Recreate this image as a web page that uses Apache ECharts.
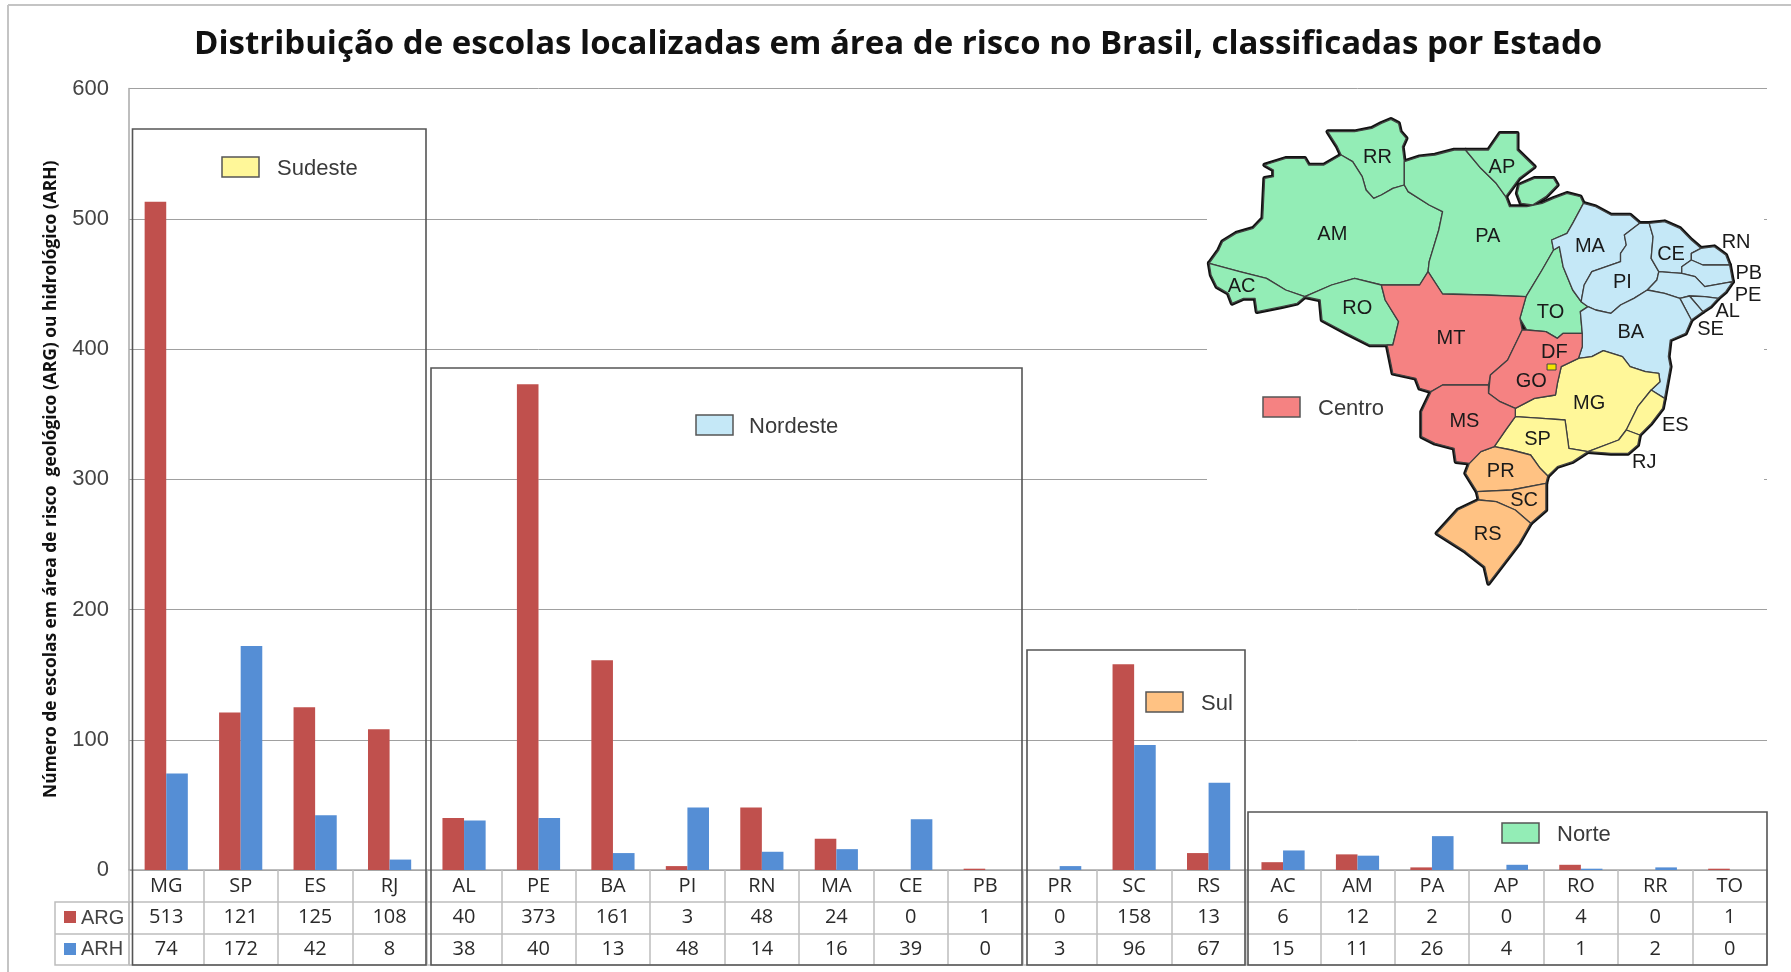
<!DOCTYPE html>
<html><head><meta charset="utf-8">
<style>html,body{margin:0;padding:0;background:#fff}#c{width:1791px;height:972px}</style>
<script src="https://cdn.jsdelivr.net/npm/echarts@6/dist/echarts.min.js"></script>
</head><body><div id="c"></div>
<script>
const categories=['MG','SP','ES','RJ','AL','PE','BA','PI','RN','MA','CE','PB','PR','SC','RS','AC','AM','PA','AP','RO','RR','TO'];
const arg=[513,121,125,108,40,373,161,3,48,24,0,1,0,158,13,6,12,2,0,4,0,1];
const arh=[74,172,42,8,38,40,13,48,14,16,39,0,3,96,67,15,11,26,4,1,2,0];
const titleText='Distribuição de escolas localizadas em área de risco no Brasil, classificadas por Estado';
const yName='Número de escolas em área de risco  geológico (ARG) ou hidrológico (ARH)';
const colors={red:'#C0504D',blue:'#558ED5',norte:'#93EDB6',nordeste:'#C5E8F7',centro:'#F58282',sudeste:'#FFF799',sul:'#FFC283'};
const G={l:129,r:1767,t:88.5,b:870};
const TB={r1:902,r2:934,r3:965,left:55};
const regionBoxes=[[132.5,129,426,965],[431,368,1022,965],[1027,650,1245,965],[1248,812,1767,965]];
const regionKeys=[
 ['Sudeste',colors.sudeste,222,157,277],['Nordeste',colors.nordeste,696,415,749],
 ['Sul',colors.sul,1146,692,1201],['Norte',colors.norte,1502,823,1557],['Centro',colors.centro,1263,397,1318]];
const M={
RR:['norte',[360,125,430,125,475,115,500,100,525,88,545,100,550,125,565,145,555,170,560,215,560,285,530,295,500,315,480,325,460,300,450,260,425,215,395,195,385,170]],
AM:['norte',[50,520,75,480,85,455,120,430,165,415,190,385,195,265,218,260,218,240,195,225,250,205,300,205,310,225,350,225,395,195,425,215,450,260,460,300,480,325,500,315,530,295,560,285,570,305,625,345,660,365,650,420,625,515,622,545,600,585,500,585,430,565,370,585,300,620,250,600,200,565,130,545]],
AC:['norte',[50,520,130,545,200,565,250,600,300,620,280,640,240,650,175,665,170,625,140,625,110,640,100,610,70,590,55,555]],
RO:['norte',[300,620,370,585,430,565,500,585,510,630,545,695,530,765,470,765,410,730,345,690,340,630]],
PA:['norte',[560,215,600,200,640,195,690,180,720,180,760,235,800,280,825,320,835,350,880,350,920,340,950,325,985,310,1020,320,1028,340,1000,400,985,430,945,450,950,480,920,540,878,620,770,615,660,612,622,545,625,515,650,420,660,365,625,345,570,305,560,285]],
AP:['norte',[720,180,780,180,810,130,855,130,855,180,900,230,860,265,825,320,800,280,760,235]],
IL:['norte',[855,310,860,285,900,265,950,265,960,285,930,320,895,345,865,340]],
TO:['norte',[950,480,965,470,975,530,1000,600,1022,635,1040,650,1020,665,1025,730,975,730,960,745,930,725,880,720,862,685,878,620,920,540]],
MA:['nordeste',[1028,340,1060,350,1100,375,1150,375,1175,400,1135,435,1140,465,1125,490,1125,515,1050,545,1030,585,1022,635,1000,600,975,530,965,470,950,480,945,450,985,430,1000,400]],
PI:['nordeste',[1175,400,1200,400,1210,440,1205,505,1225,545,1220,570,1195,600,1160,625,1125,645,1100,670,1060,660,1040,650,1022,635,1030,585,1050,545,1125,515,1125,490,1140,465,1135,435]],
CE:['nordeste',[1200,400,1240,395,1280,415,1310,450,1335,475,1310,490,1310,510,1285,530,1285,550,1225,545,1205,505,1210,440]],
RN:['nordeste',[1335,475,1370,470,1400,495,1410,525,1340,525,1310,510,1310,490]],
PB:['nordeste',[1285,530,1310,510,1340,525,1410,525,1418,575,1345,590,1320,560,1285,550]],
PE:['nordeste',[1225,545,1285,550,1320,560,1345,590,1418,575,1400,605,1380,625,1345,620,1305,618,1280,625,1240,610,1195,600,1220,570]],
AL:['nordeste',[1305,618,1345,620,1380,625,1360,650,1340,665]],
SE:['nordeste',[1280,625,1305,618,1340,665,1310,690]],
BA:['nordeste',[1020,665,1040,650,1060,660,1100,670,1125,645,1160,625,1195,600,1240,610,1280,625,1310,690,1295,730,1255,750,1250,800,1255,830,1240,925,1205,900,1228,875,1225,850,1190,845,1150,830,1130,800,1080,782,1050,800,1015,805,1025,770,1025,730]],
MG:['sudeste',[970,830,1015,805,1050,800,1080,782,1130,800,1150,830,1190,845,1225,850,1228,875,1205,900,1170,950,1140,1020,1120,1050,1040,1085,990,1075,980,990,920,985,850,980,850,955,900,925,955,915,960,880]],
ES:['sudeste',[1205,900,1240,925,1235,955,1205,1000,1175,1035,1140,1020,1170,950]],
RJ:['sudeste',[1140,1020,1175,1035,1170,1065,1145,1090,1100,1090,1040,1085,1120,1050]],
SP:['sudeste',[850,980,920,985,980,990,990,1075,1040,1085,1000,1115,960,1130,935,1158,915,1135,890,1095,840,1080,795,1070,825,1020]],
PR:['sul',[795,1070,840,1080,890,1095,915,1135,935,1158,930,1180,840,1200,750,1205,720,1150,730,1120,760,1085]],
SC:['sul',[750,1205,840,1200,930,1180,930,1260,890,1300,850,1260,800,1235,755,1230]],
RS:['sul',[755,1230,800,1235,850,1260,890,1300,860,1360,820,1420,780,1480,770,1430,720,1385,645,1330,700,1260]],
MT:['centro',[500,585,600,585,622,545,660,612,770,615,878,620,862,685,868,720,830,810,785,855,780,885,660,885,630,905,600,895,590,865,530,850,515,765,530,765,545,695,510,630]],
GO:['centro',[868,720,880,720,930,725,960,745,975,730,1025,730,1025,770,1015,805,970,830,960,880,955,915,900,925,850,955,810,935,780,910,785,855,830,810]],
MS:['centro',[660,885,780,885,780,910,810,935,850,955,850,980,825,1020,795,1070,760,1085,730,1120,695,1115,690,1075,640,1060,605,1040,605,965,630,905]]
};
const mapLabels=[['RR',490,203],['AP',815,232],['AM',372,433],['PA',778,438],['AC',135,590],['RO',437,655],['MA',1045,470],['PI',1130,577],['CE',1257,493],['TO',942,668],['MT',682,745],['DF',952,787],['GO',892,873],['BA',1152,728],['MG',1043,940],['MS',717,995],['SP',908,1047],['PR',812,1145],['SC',873,1230],['RS',778,1332],['RN',1427,458],['PB',1460,550],['PE',1458,615],['AL',1405,665],['SE',1360,717],['ES',1268,1005],['RJ',1187,1118]];
const mx=x=>1190+x/2.613, my=y=>90+y/3;
const SANS='"Liberation Sans",Arial,sans-serif', OPEN='"Open Sans",sans-serif';
function toPts(a){const p=[];for(let i=0;i<a.length;i+=2)p.push([mx(a[i]),my(a[i+1])]);return p;}
const line=(x1,y1,x2,y2,color,w,z)=>({type:'line',shape:{x1,y1,x2,y2},style:{stroke:color,lineWidth:w},z,silent:true});
const g=[];
g.push(line(8,5,1791,5,'#c4c4c4',2,1));
g.push(line(8,5,8,972,'#c4c4c4',2,1));
g.push({type:'rect',shape:{x:1207,y:100,width:557,height:498},style:{fill:'#fff'},z:5,silent:true});
g.push(line(G.l,TB.r1,G.r,TB.r1,'#bdbdbd',1.5,6));
g.push(line(G.l,TB.r2,G.r,TB.r2,'#bdbdbd',1.5,6));
g.push(line(G.l,TB.r3,G.r,TB.r3,'#bdbdbd',1.5,6));
g.push({type:'rect',shape:{x:TB.left,y:TB.r1,width:G.l-TB.left,height:TB.r3-TB.r1},style:{fill:'none',stroke:'#bdbdbd',lineWidth:1.5},z:6,silent:true});
g.push(line(TB.left,TB.r2,G.l,TB.r2,'#bdbdbd',1.5,6));
[['ARG',colors.red,911,918],['ARH',colors.blue,943,949]].forEach(r=>{
 g.push({type:'rect',shape:{x:64,y:r[2],width:12,height:12},style:{fill:r[1]},z:7,silent:true});
 g.push({type:'text',x:81,y:r[3],style:{text:r[0],font:'20px '+SANS,fill:'#444',textVerticalAlign:'middle'},z:7,silent:true});
});
regionBoxes.forEach(b=>g.push({type:'rect',shape:{x:b[0],y:b[1],width:b[2]-b[0],height:b[3]-b[1]},style:{fill:'none',stroke:'#555',lineWidth:1.6},z:8,silent:true}));
regionKeys.forEach(k=>{
 g.push({type:'rect',shape:{x:k[2],y:k[3],width:37,height:20},style:{fill:k[1],stroke:'#555',lineWidth:1.5},z:10,silent:true});
 g.push({type:'text',x:k[4],y:k[3]+12,style:{text:k[0],font:'22px '+SANS,fill:'#3a3a3a',textVerticalAlign:'middle'},z:10,silent:true});
});
Object.keys(M).forEach(k=>g.push({type:'polygon',shape:{points:toPts(M[k][1])},style:{fill:'#111',stroke:'#111',lineWidth:4.6,lineJoin:'round'},z:11,silent:true}));
Object.keys(M).forEach(k=>g.push({type:'polygon',shape:{points:toPts(M[k][1])},style:{fill:colors[M[k][0]],stroke:'#404040',lineWidth:1.3,lineJoin:'round'},z:12,silent:true}));
g.push({type:'rect',shape:{x:mx(933),y:my(822),width:9,height:6},style:{fill:'#F2E400',stroke:'#444',lineWidth:1},z:13,silent:true});
mapLabels.forEach(l=>g.push({type:'text',x:mx(l[1]),y:my(l[2]),style:{text:l[0],font:'20px '+SANS,fill:'#1a1a1a',textAlign:'center',textVerticalAlign:'middle'},z:14,silent:true}));

const chart=echarts.init(document.getElementById('c'),null,{renderer:'canvas'});
chart.setOption({
 animation:false,backgroundColor:'#fff',
 title:{text:titleText,left:189,top:23,textStyle:{fontFamily:OPEN,fontWeight:'bold',fontSize:33,color:'#111'}},
 grid:{left:G.l,right:1791-G.r,top:G.t,bottom:972-G.b,containLabel:false},
 xAxis:{type:'category',data:categories,
  axisLine:{lineStyle:{color:'#a8a8a8',width:1.5}},
  axisTick:{show:true,length:TB.r3-G.b,lineStyle:{color:'#bdbdbd',width:1.5}},
  axisLabel:{interval:0,margin:0,lineHeight:31.6,verticalAlign:'top',
   formatter:(v,i)=>`{a|${v}}\n{a|${arg[i]}}\n{a|${arh[i]}}`,
   rich:{a:{fontFamily:OPEN,fontSize:20,lineHeight:31.6,color:'#2a2a2a'}}}},
 yAxis:{type:'value',min:0,max:600,interval:100,
  name:yName,nameLocation:'middle',nameRotate:90,nameGap:69,
  nameTextStyle:{fontFamily:OPEN,fontSize:17.4,fontWeight:'bold',color:'#111'},
  axisLine:{show:true,lineStyle:{color:'#a8a8a8',width:1.5}},axisTick:{show:false},
  axisLabel:{margin:20,fontFamily:SANS,fontSize:22,color:'#444'},
  splitLine:{lineStyle:{color:'#a0a0a0',width:1}}},
 series:[
  {name:'ARG',type:'bar',data:arg,barWidth:'29%',barGap:0,itemStyle:{color:colors.red},z:3},
  {name:'ARH',type:'bar',data:arh,barWidth:'29%',barGap:0,itemStyle:{color:colors.blue},z:3}],
 graphic:{elements:g}
});
</script></body></html>
